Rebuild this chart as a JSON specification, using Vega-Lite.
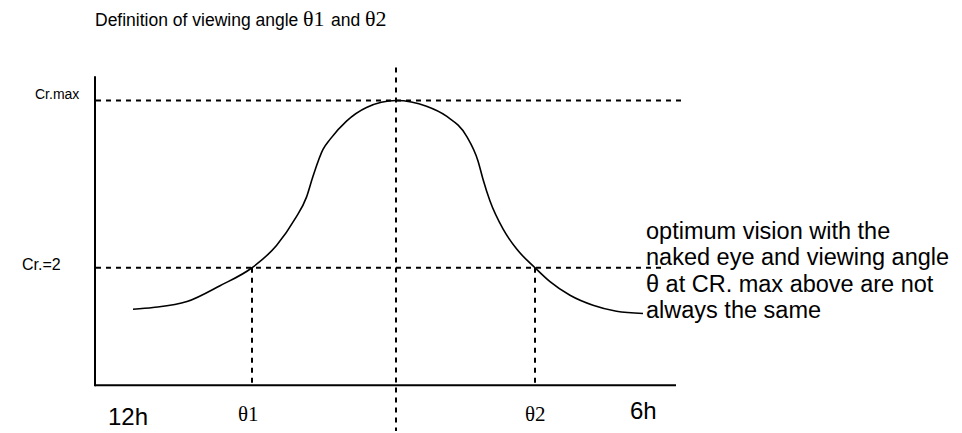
{
  "$schema": "https://vega.github.io/schema/vega-lite/v6.json",
  "width": 962,
  "height": 433,
  "padding": 0,
  "autosize": {"type": "fit", "contains": "padding"},
  "background": "white",
  "config": {"view": {"stroke": null}},
  "datasets": {
    "curve": [
      {"x": -52.6, "y": 1.293}, {"x": -48.6, "y": 1.322}, {"x": -41.8, "y": 1.424},
      {"x": -35.2, "y": 1.695}, {"x": -28.8, "y": 2.0}, {"x": -23.9, "y": 2.378},
      {"x": -20.2, "y": 2.831}, {"x": -17.9, "y": 3.203}, {"x": -16.6, "y": 3.559},
      {"x": -14.6, "y": 4.017}, {"x": -13.2, "y": 4.186}, {"x": -9.9, "y": 4.497},
      {"x": -5.9, "y": 4.729}, {"x": 0, "y": 4.847}, {"x": 6.1, "y": 4.751},
      {"x": 10.1, "y": 4.581}, {"x": 14.1, "y": 4.242}, {"x": 16.4, "y": 3.819},
      {"x": 17.4, "y": 3.508}, {"x": 18.8, "y": 3.136}, {"x": 21.4, "y": 2.661},
      {"x": 24.1, "y": 2.322}, {"x": 27.8, "y": 2.0}, {"x": 30.8, "y": 1.763},
      {"x": 34.8, "y": 1.531}, {"x": 39.4, "y": 1.361}, {"x": 44.1, "y": 1.259},
      {"x": 49.4, "y": 1.22}
    ],
    "lines": [
      {"role": "axis", "x": -60.2, "x2": -60.2, "y": -0.017, "y2": 5.263},
      {"role": "axis", "x": -60.2, "x2": 56, "y": 0, "y2": 0},
      {"role": "guide", "x": -60, "x2": 57.4, "y": 4.85, "y2": 4.85},
      {"role": "guide", "x": -60, "x2": 53.4, "y": 2, "y2": 2},
      {"role": "guide", "x": 0, "x2": 0, "y": 5.41, "y2": -0.78},
      {"role": "guide", "x": -28.8, "x2": -28.8, "y": 2, "y2": 0},
      {"role": "guide", "x": 27.8, "x2": 27.8, "y": 2, "y2": 0}
    ],
    "labels": [
      {"role": "title", "x": -60.2, "y": 6.119, "text": "Definition of viewing angle"},
      {"role": "title", "x": -13, "y": 6.119, "text": "and"},
      {"role": "titleSymbol", "x": -18.6, "y": 6.119, "text": "θ1"},
      {"role": "titleSymbol", "x": -6.2, "y": 6.119, "text": "θ2"},
      {"role": "level", "x": -72.2, "y": 4.881, "text": "Cr.max"},
      {"role": "levelWide", "x": -74.8, "y": 1.966, "text": "Cr.=2"},
      {"role": "tick", "x": -57.6, "y": -0.678, "text": "12h"},
      {"role": "tick", "x": 46.8, "y": -0.576, "text": "6h"},
      {"role": "tickSymbol", "x": -31.6, "y": -0.61, "text": "θ1"},
      {"role": "tickSymbol", "x": 25.8, "y": -0.61, "text": "θ2"},
      {"role": "note", "x": 50, "y": 2.492, "text": "optimum vision with the\nnaked eye and viewing angle\nθ at CR. max above are not\nalways the same"}
    ]
  },
  "encoding": {
    "x": {"field": "x", "type": "quantitative", "axis": null, "scale": {"domain": [-79.2, 113.2], "nice": false, "zero": false}},
    "y": {"field": "y", "type": "quantitative", "axis": null, "scale": {"domain": [-0.7797, 6.5593], "nice": false, "zero": false}}
  },
  "layer": [
    {
      "data": {"name": "lines"},
      "transform": [{"filter": "datum.role === 'guide'"}],
      "mark": {"type": "rule", "color": "black", "strokeWidth": 2, "strokeDash": [5, 5]},
      "encoding": {"x2": {"field": "x2"}, "y2": {"field": "y2"}}
    },
    {
      "data": {"name": "lines"},
      "transform": [{"filter": "datum.role === 'axis'"}],
      "mark": {"type": "rule", "color": "black", "strokeWidth": 2},
      "encoding": {"x2": {"field": "x2"}, "y2": {"field": "y2"}}
    },
    {
      "data": {"name": "curve"},
      "mark": {"type": "line", "color": "black", "strokeWidth": 1.6, "interpolate": "monotone"},
      "encoding": {"order": {"field": "x", "type": "quantitative"}}
    },
    {
      "data": {"name": "labels"},
      "transform": [{"filter": "datum.role === 'title'"}],
      "mark": {"type": "text", "align": "left", "baseline": "alphabetic", "font": "Liberation Sans", "fontSize": 17.5, "color": "black"},
      "encoding": {"text": {"field": "text"}}
    },
    {
      "data": {"name": "labels"},
      "transform": [{"filter": "datum.role === 'titleSymbol'"}],
      "mark": {"type": "text", "align": "left", "baseline": "alphabetic", "font": "Liberation Serif", "fontSize": 22, "color": "black"},
      "encoding": {"text": {"field": "text"}}
    },
    {
      "data": {"name": "labels"},
      "transform": [{"filter": "datum.role === 'level'"}],
      "mark": {"type": "text", "align": "left", "baseline": "alphabetic", "font": "Liberation Sans", "fontSize": 14, "color": "black"},
      "encoding": {"text": {"field": "text"}}
    },
    {
      "data": {"name": "labels"},
      "transform": [{"filter": "datum.role === 'levelWide'"}],
      "mark": {"type": "text", "align": "left", "baseline": "alphabetic", "font": "Liberation Sans", "fontSize": 16, "color": "black"},
      "encoding": {"text": {"field": "text"}}
    },
    {
      "data": {"name": "labels"},
      "transform": [{"filter": "datum.role === 'tick'"}],
      "mark": {"type": "text", "align": "left", "baseline": "alphabetic", "font": "Liberation Sans", "fontSize": 24, "color": "black"},
      "encoding": {"text": {"field": "text"}}
    },
    {
      "data": {"name": "labels"},
      "transform": [{"filter": "datum.role === 'tickSymbol'"}],
      "mark": {"type": "text", "align": "left", "baseline": "alphabetic", "font": "Liberation Serif", "fontSize": 21, "color": "black"},
      "encoding": {"text": {"field": "text"}}
    },
    {
      "data": {"name": "labels"},
      "transform": [{"filter": "datum.role === 'note'"}],
      "mark": {"type": "text", "align": "left", "baseline": "alphabetic", "font": "Liberation Sans", "fontSize": 23.5, "lineHeight": 26.5, "lineBreak": "\n", "color": "black"},
      "encoding": {"text": {"field": "text"}}
    }
  ]
}
